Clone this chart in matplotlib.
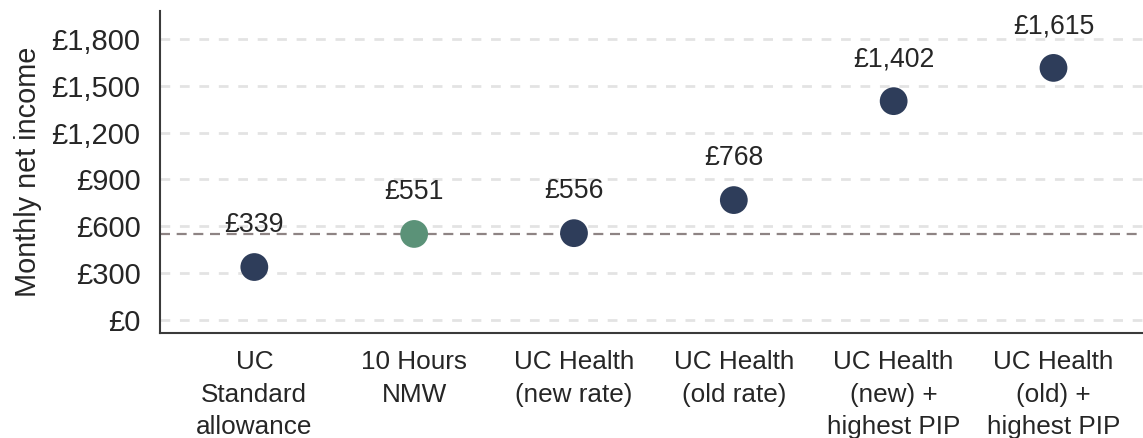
import matplotlib.pyplot as plt
from matplotlib.ticker import FuncFormatter

plt.rcParams['font.family'] = ['Liberation Sans', 'DejaVu Sans']

# data
categories = ['UC\nStandard\nallowance', '10 Hours\nNMW', 'UC Health\n(new rate)',
              'UC Health\n(old rate)', 'UC Health\n(new) +\nhighest PIP',
              'UC Health\n(old) +\nhighest PIP']
income = [339, 551, 556, 768, 1402, 1615]
labels = ['£339', '£551', '£556', '£768', '£1,402', '£1,615']
point_colors = ['#2e3d5a', '#5b9278', '#2e3d5a', '#2e3d5a', '#2e3d5a', '#2e3d5a']
nmw_line = 551
yticks = [0, 300, 600, 900, 1200, 1500, 1800]

text_col = '#262626'

fig = plt.figure(figsize=(11.43, 4.38), dpi=100)
ax = fig.add_axes([0.14, 0.24, 0.86, 0.735])

x = list(range(len(categories)))

for yt in yticks:
    ax.axhline(yt, color='#e3e3e3', lw=2, ls=(0, (3.5, 3.5)), zorder=0)
ax.axhline(nmw_line, color='#8e8484', lw=1.6, ls=(0, (4.5, 3)), zorder=1)

ax.scatter(x, income, s=400, c=point_colors, zorder=3, linewidths=0)

for xi, v, lab in zip(x, income, labels):
    ax.annotate(lab, (xi, v), xytext=(0, 30), textcoords='offset points',
                ha='center', va='center', fontsize=19.2, color=text_col)

ax.set_xlim(-0.59, 5.56)
ax.set_ylim(-83, 1980)
ax.set_xticks(x)
ax.set_xticklabels(categories, fontsize=18.8, color=text_col)
for t in ax.get_xticklabels():
    t.set_linespacing(1.45)
ax.set_yticks(yticks)
ax.yaxis.set_major_formatter(FuncFormatter(lambda v, p: '£{:,.0f}'.format(v)))
ax.tick_params(axis='y', labelsize=21, labelcolor=text_col, length=0, pad=14)
ax.tick_params(axis='x', length=0, pad=12.5)
ax.set_ylabel('Monthly net income', fontsize=20.8, color=text_col, labelpad=7)

for s in ['top', 'right']:
    ax.spines[s].set_visible(False)
for s in ['left', 'bottom']:
    ax.spines[s].set_color('#3a3a3a')
    ax.spines[s].set_linewidth(1.5)

fig.savefig('out.png', dpi=100)
